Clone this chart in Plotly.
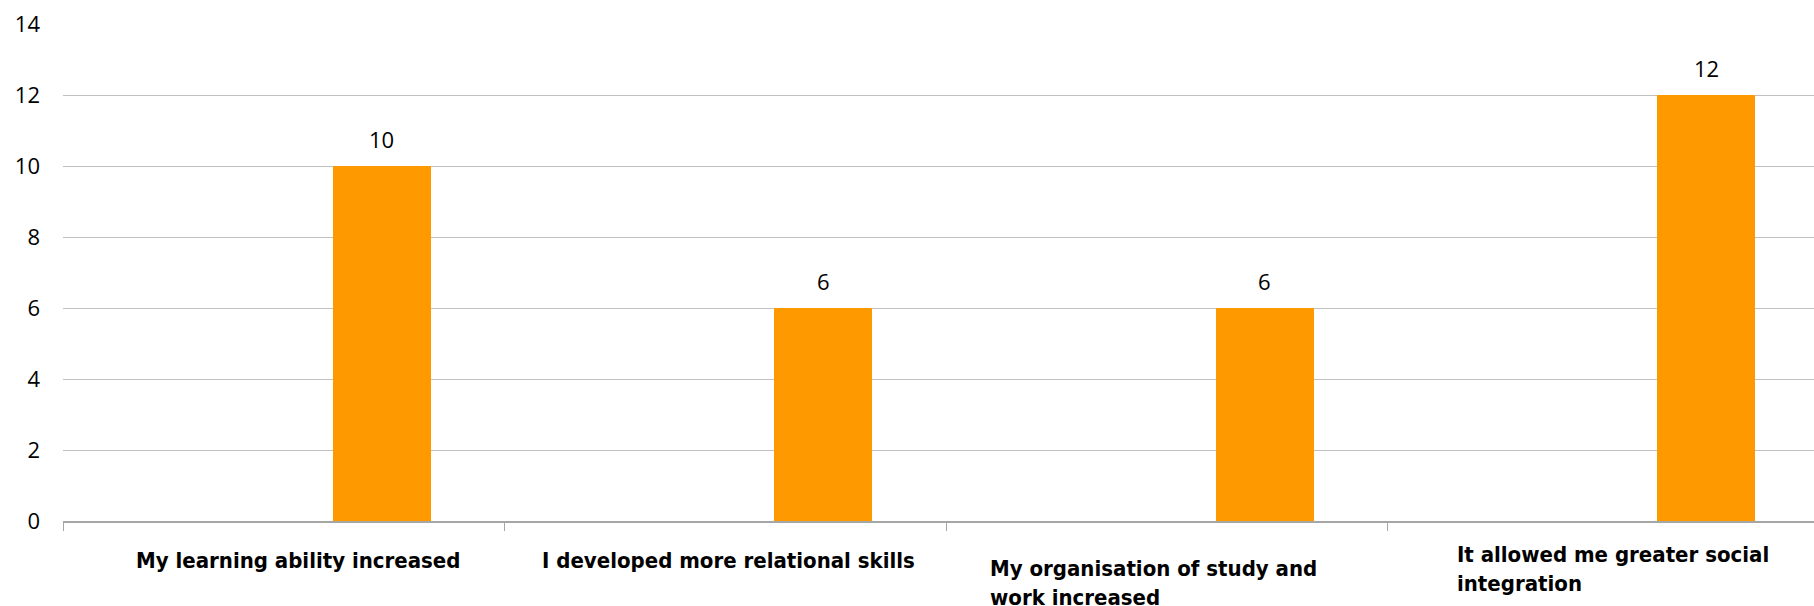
import plotly.graph_objects as go

# Survey responses: number of students agreeing with each statement
categories = [
    "My learning ability increased",
    "I developed more relational skills",
    "My organisation of study and<br>work increased",
    "It allowed me greater social<br>integration",
]
counts = [10, 6, 6, 12]
y_ticks = [0, 2, 4, 6, 8, 10, 12, 14]

BAR_COLOR = "#FF9900"
GRID_COLOR = "#C0C0C0"
AXIS_COLOR = "#A6A6A6"
NUM_FONT = dict(family="Open Sans, Lato, sans-serif", size=22, color="#000000")
CAT_FONT = dict(family="Liberation Sans Narrow, DejaVu Sans Condensed, sans-serif",
                size=22, color="#000000")

x_idx = list(range(len(categories)))

fig = go.Figure()
fig.add_trace(go.Bar(
    x=x_idx,
    y=counts,
    width=0.222,
    offset=0.111,
    marker=dict(color=BAR_COLOR, line=dict(width=0)),
    hoverinfo="skip",
))

# value labels above each bar
for i, v in zip(x_idx, counts):
    fig.add_annotation(
        x=i + 0.222, y=v, xref="x", yref="y",
        text=str(v), showarrow=False,
        xanchor="center", yanchor="middle", yshift=27,
        font=NUM_FONT,
    )

# category labels under the axis (vertical offset per label)
label_shift = [-25, -25, -33, -19]
label_xshift = [14, 3, -13, 5]
for i, (txt, ys, xs) in enumerate(zip(categories, label_shift, label_xshift)):
    fig.add_annotation(
        x=i, y=0, xref="x", yref="paper",
        text="<b>" + txt + "</b>", showarrow=False,
        xanchor="center", yanchor="top", align="left",
        yshift=ys, xshift=xs,
        font=CAT_FONT, bgcolor="#FFFFFF",
    )

fig.update_layout(
    width=1814, height=606, autosize=False,
    margin=dict(l=63, r=0, t=24, b=85),
    paper_bgcolor="#FFFFFF", plot_bgcolor="#FFFFFF",
    showlegend=False,
    bargap=0,
)
fig.update_xaxes(
    type="linear",
    range=[-0.5, 3.466],
    tickmode="array", tickvals=[-0.5, 0.5, 1.5, 2.5],
    showticklabels=False,
    ticks="outside", ticklen=8, tickcolor=AXIS_COLOR, tickwidth=1.3,
    showline=True, linecolor=AXIS_COLOR, linewidth=1.5,
    showgrid=False, zeroline=False,
)
fig.update_yaxes(
    range=[0, 14],
    tickmode="array", tickvals=y_ticks,
    ticktext=[str(t) for t in y_ticks],
    tickfont=NUM_FONT,
    ticks="", ticklabelstandoff=22,
    showgrid=True, gridcolor=GRID_COLOR, gridwidth=1.3,
    showline=False, zeroline=False,
)

fig.write_html("out.html")
